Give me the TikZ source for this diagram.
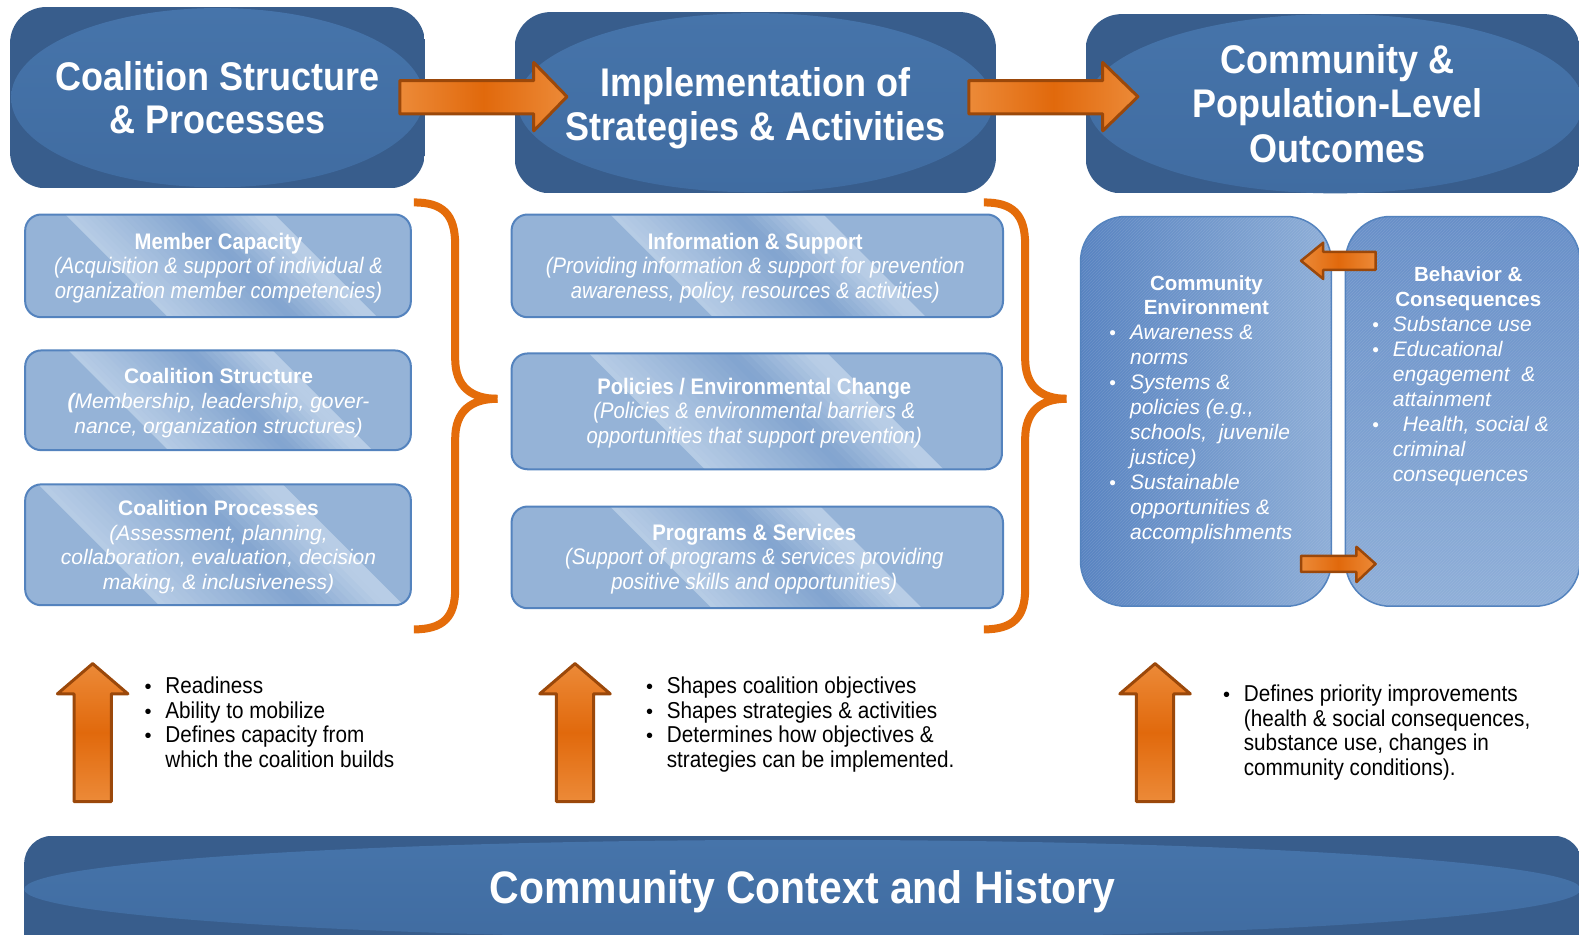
\documentclass[tikz,border=0pt]{standalone}
\usepackage{fontspec}
\setmainfont{Liberation Sans}
\newfontfamily\nsans[FakeStretch=0.9]{Liberation Sans}
\usetikzlibrary{patterns}
\definecolor{hdark}{RGB}{56,93,140}
\definecolor{hlight}{RGB}{64,108,161}
\definecolor{hlightT}{RGB}{70,116,170}
\definecolor{boxfill}{RGB}{149,179,215}
\definecolor{boxborder}{RGB}{84,131,190}
\definecolor{bandL}{RGB}{184,205,230}
\definecolor{bandD}{RGB}{130,164,207}
\definecolor{oface}{RGB}{225,105,12}
\definecolor{olite}{RGB}{236,138,56}
\definecolor{oedge}{RGB}{155,72,10}
\definecolor{braceorange}{RGB}{228,108,10}
\definecolor{ceL}{RGB}{88,131,193}
\definecolor{ceR}{RGB}{142,174,215}
\definecolor{bcT}{RGB}{104,143,200}
\definecolor{bcB}{RGB}{143,175,216}
\tikzset{
 htext/.style={anchor=base, inner sep=0pt, text=white, font=\nsans\bfseries\fontsize{40}{44}\selectfont},
 bigtext/.style={anchor=base, inner sep=0pt, text=white, font=\nsans\bfseries\fontsize{45.5}{50}\selectfont},
 btitle/.style={anchor=base, inner sep=0pt, text=white, font=\nsans\bfseries\fontsize{22.5}{24}\selectfont},
 bital/.style={anchor=base, inner sep=0pt, text=white, font=\nsans\itshape\fontsize{22.5}{24}\selectfont},
 ntitle/.style={anchor=base, inner sep=0pt, text=white, font=\bfseries\fontsize{21}{24}\selectfont},
 nital/.style={anchor=base, inner sep=0pt, text=white, font=\itshape\fontsize{21}{24}\selectfont},
 rtitle/.style={anchor=base, inner sep=0pt, text=white, font=\bfseries\fontsize{20.5}{24}\selectfont},
 ritem/.style={anchor=base west, inner sep=0pt, text=white, font=\itshape\fontsize{21}{24}\selectfont},
 rbul/.style={anchor=base, inner sep=0pt, text=white, font=\fontsize{19}{24}\selectfont},
 btext/.style={anchor=base west, inner sep=0pt, text=black, font=\nsans\fontsize{23}{24}\selectfont},
 bbul/.style={anchor=base, inner sep=0pt, text=black, font=\fontsize{20}{24}\selectfont},
 brace/.style={draw=braceorange, line width=8pt, line cap=butt},
 blockarrow/.style={draw=oedge, line width=3pt, line join=round},
}
\newcommand\txtlines[6]{%
  \foreach \lline [count=\li] in {#6}{%
    \node[#5] (#1\li) at (#2,{#3+#4*(\li-1)}) {\lline};
  }}
% light box with glossy diagonal band
\newcommand\lbox[7]{%
  \fill[boxfill, rounded corners=16pt] (#2,#3) rectangle (#4,#5);
  \begin{scope}
    \clip[rounded corners=16pt] (#2,#3) rectangle (#4,#5);
    \foreach \k in {0,...,29}{%
      \pgfmathsetmacro\bandt{(\k+0.5)/30}%
      \pgfmathtruncatemacro\bandm{100*(\bandt<0.6 ? 1-\bandt/0.6 : (\bandt<0.92 ? (\bandt-0.6)/0.32 : 1))}%
      \pgfmathsetmacro\bxa{#6+#7*\k/30-4}%
      \pgfmathsetmacro\bxb{#6+#7*(\k+1)/30-4+0.7}%
      \pgfmathsetmacro\bh{#5-#3+8}%
      \fill[bandL!\bandm!bandD] (\bxa,#3-4) -- (\bxb,#3-4) -- ({\bxb+\bh},#5+4) -- ({\bxa+\bh},#5+4) -- cycle;
    }
  \end{scope}
  \draw[boxborder, line width=2pt, rounded corners=16pt] (#2,#3) rectangle (#4,#5);
  \coordinate (#1) at ({(#2+#4)/2},{(#3+#5)/2});
}
\newcommand\uparrowshape[2]{%
  \draw[blockarrow, top color=olite, bottom color=olite, middle color=oface]
    ({#1-18.5},796) -- ({#1-18.5},689) -- ({#1-35},689) -- (#1,659) -- ({#1+35},689) -- ({#1+18.5},689) -- ({#1+18.5},796) -- cycle;
  \coordinate (#2) at (#1,659);
}
\begin{document}
\begin{tikzpicture}[x=1.007pt,y=-1.007pt]
\clip (0,0) rectangle (1568,927.5);
\fill[white] (0,0) rectangle (1568,927.5);

% ---------- header boxes ----------
\begin{scope}
  \clip[rounded corners=36pt] (10,7) rectangle (422,187);
  \fill[hdark] (10,7) rectangle (422,187);
  \shade[top color=hlightT, bottom color=hlight] (216,97) ellipse [x radius=205, y radius=89];
\end{scope}
\begin{scope}
  \clip[rounded corners=36pt] (511,12) rectangle (989,192);
  \fill[hdark] (511,12) rectangle (989,192);
  \shade[top color=hlightT, bottom color=hlight] (750,102) ellipse [x radius=236, y radius=89];
\end{scope}
\begin{scope}
  \clip[rounded corners=36pt] (1078,14) rectangle (1569,192);
  \fill[hdark] (1078,14) rectangle (1569,192);
  \shade[top color=hlightT, bottom color=hlight] (1326,103) ellipse [x radius=246, y radius=89];
\end{scope}
\txtlines{ha}{216}{90}{43}{htext}{{Coalition Structure},{\& Processes}}
\txtlines{hb}{750}{96}{44}{htext}{{Implementation of},{Strategies \& Activities}}
\txtlines{hc}{1328}{73}{44}{htext}{{Community \&},{Population-Level},{Outcomes}}

% ---------- horizontal arrows ----------
\draw[blockarrow, left color=olite, right color=olite, middle color=oface]
  (397,80) -- (530,80) -- (530,62) -- (563,96) -- (530,130) -- (530,113) -- (397,113) -- cycle;
\draw[blockarrow, left color=olite, right color=olite, middle color=oface]
  (962,80) -- (1095,80) -- (1095,62) -- (1130,96) -- (1095,130) -- (1095,113) -- (962,113) -- cycle;

% ---------- left boxes ----------
\lbox{mc}{25}{213}{408}{315}{65}{207}
\lbox{cs}{25}{348}{408}{447}{68}{202}
\lbox{cp}{25}{481}{408}{601}{38}{242}
\txtlines{mct}{217}{248}{24}{btitle}{{Member Capacity}}
\txtlines{mci}{217}{272}{24}{bital}{{(Acquisition \& support of individual \&},{organization member competencies)}}
\txtlines{cst}{217}{381}{24}{ntitle}{{Coalition Structure}}
\txtlines{csi}{217}{405.5}{24.5}{nital}{{{\bfseries(}Membership, leadership, gover-},{nance, organization structures)}}
\txtlines{cpt}{217}{512}{24}{ntitle}{{Coalition Processes}}
\txtlines{cpi}{217}{536.5}{24.5}{nital}{{(Assessment, planning,},{collaboration, evaluation, decision},{making, \& inclusiveness)}}

% ---------- middle boxes ----------
\lbox{is}{508}{213}{996}{315}{606}{211}
\lbox{pe}{508}{351}{995}{466}{585}{236}
\lbox{ps}{508}{503}{996}{604}{606}{208}
\txtlines{ist}{750}{248}{24}{btitle}{{Information \& Support}}
\txtlines{isi}{750}{272}{24}{bital}{{(Providing information \& support for prevention},{awareness, policy, resources \& activities)}}
\txtlines{pet}{749}{392}{24}{btitle}{{Policies / Environmental Change}}
\txtlines{pei}{749}{416}{24}{bital}{{(Policies \& environmental barriers \&},{opportunities that support prevention)}}
\txtlines{pst}{749}{537}{24}{btitle}{{Programs \& Services}}
\txtlines{psi}{749}{561}{24}{bital}{{(Support of programs \& services providing},{positive skills and opportunities)}}

% ---------- braces ----------
\draw[brace] (411,201) .. controls (440,201) and (452,213) .. (452,243) -- (452,356) .. controls (452,384) and (468,396) .. (494,396);
\draw[brace] (494,396) .. controls (468,396) and (452,408) .. (452,436) -- (452,585) .. controls (452,613) and (440,625) .. (411,625);
\draw[brace] (977,201) .. controls (1006,201) and (1018,213) .. (1018,243) -- (1018,356) .. controls (1018,384) and (1034,396) .. (1059,396);
\draw[brace] (1059,396) .. controls (1034,396) and (1018,408) .. (1018,436) -- (1018,585) .. controls (1018,613) and (1006,625) .. (977,625);

% ---------- right boxes ----------
\shade[rounded corners=45pt, left color=ceL, right color=ceR] (1073,215) rectangle (1322,602);
\fill[rounded corners=45pt, pattern=north east lines, pattern color=white, opacity=0.12] (1073,215) rectangle (1322,602);
\draw[boxborder, line width=1.5pt, rounded corners=45pt] (1073,215) rectangle (1322,602);
\coordinate (ce) at (1197,408);
\shade[rounded corners=45pt, top color=bcT, bottom color=bcB] (1336,215) rectangle (1569,602);
\fill[rounded corners=45pt, pattern=north east lines, pattern color=white, opacity=0.12] (1336,215) rectangle (1569,602);
\draw[boxborder, line width=1.5pt, rounded corners=45pt] (1336,215) rectangle (1569,602);
\coordinate (bc) at (1452,408);

\txtlines{cet}{1198}{288}{24.5}{rtitle}{{Community},{Environment}}
\txtlines{cei}{1122}{337}{24.9}{ritem}{{Awareness \&},{norms},{Systems \&},{policies (e.g.,},{schools,\ \ juvenile},{justice)},{Sustainable},{opportunities \&},{accomplishments}}
\node[rbul] (ceb1) at (1105,337) {•};
\node[rbul] (ceb2) at (1105,387) {•};
\node[rbul] (ceb3) at (1105,486) {•};

\txtlines{bct}{1458}{280}{24.5}{rtitle}{{Behavior \&},{Consequences}}
\txtlines{bci}{1383}{329}{24.8}{ritem}{{Substance use},{Educational},{engagement\ \ \&},{attainment}}
\node[ritem] (bch) at (1393,428) {Health, social \&};
\txtlines{bcj}{1383}{453}{24.8}{ritem}{{criminal},{consequences}}
\node[rbul] (bcb1) at (1366,329) {•};
\node[rbul] (bcb2) at (1366,354) {•};
\node[rbul] (bcb3) at (1366,428) {•};

% small arrows between right boxes
\draw[blockarrow, line width=2.5pt, left color=olite, right color=olite, middle color=oface]
  (1366,250) -- (1314,250) -- (1314,241) -- (1292,259) -- (1314,277) -- (1314,268) -- (1366,268) -- cycle;
\draw[blockarrow, line width=2.5pt, left color=olite, right color=olite, middle color=oface]
  (1292,552) -- (1347,552) -- (1347,543) -- (1366,560) -- (1347,578) -- (1347,568) -- (1292,568) -- cycle;

% ---------- up arrows and bullet texts ----------
\uparrowshape{92}{ua}
\uparrowshape{571}{ub}
\uparrowshape{1147}{uc}

\txtlines{la}{164}{689}{24.3}{btext}{{Readiness},{Ability to mobilize},{Defines capacity from},{which the coalition builds}}
\node[bbul] (lab1) at (147,689) {•};
\node[bbul] (lab2) at (147,713.3) {•};
\node[bbul] (lab3) at (147,737.6) {•};

\txtlines{lb}{662}{689}{24.3}{btext}{{Shapes coalition objectives},{Shapes strategies \& activities},{Determines how objectives \&},{strategies can be implemented.}}
\node[bbul] (lbb1) at (645,689) {•};
\node[bbul] (lbb2) at (645,713.3) {•};
\node[bbul] (lbb3) at (645,737.6) {•};

\txtlines{lc}{1235}{697}{24.3}{btext}{{Defines priority improvements},{(health \& social consequences,},{substance use, changes in},{community conditions).}}
\node[bbul] (lcb1) at (1218,697) {•};

% ---------- bottom bar ----------
\begin{scope}
  \clip[rounded corners=28pt] (24,830) rectangle (1571,980);
  \fill[hdark] (24,830) rectangle (1571,980);
  \shade[top color=hlightT, bottom color=hlight] (797,883) ellipse [x radius=773, y radius=49];
\end{scope}
\node[bigtext] (ctx) at (797,897) {Community Context and History};
\end{tikzpicture}
\end{document}
